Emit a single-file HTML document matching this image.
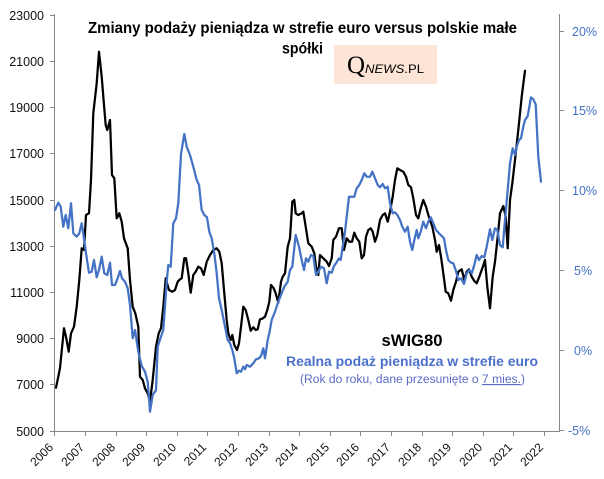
<!DOCTYPE html>
<html><head><meta charset="utf-8"><style>
html,body{margin:0;padding:0;background:#fff;}
svg{display:block;}
text{font-family:"Liberation Sans",sans-serif;}
</style></head><body>
<svg width="604" height="479" viewBox="0 0 604 479" xmlns="http://www.w3.org/2000/svg">
<rect x="0" y="0" width="604" height="479" fill="#fff"/>
<!-- axes -->
<g stroke="#868686" stroke-width="1" fill="none">
<line x1="54.5" y1="14" x2="54.5" y2="431"/>
<line x1="559.5" y1="14" x2="559.5" y2="431"/>
<line x1="54" y1="431.5" x2="560" y2="431.5"/>
<line x1="50" y1="15.5" x2="54" y2="15.5"/>
<line x1="50" y1="61.5" x2="54" y2="61.5"/>
<line x1="50" y1="107.5" x2="54" y2="107.5"/>
<line x1="50" y1="153.5" x2="54" y2="153.5"/>
<line x1="50" y1="200.5" x2="54" y2="200.5"/>
<line x1="50" y1="246.5" x2="54" y2="246.5"/>
<line x1="50" y1="292.5" x2="54" y2="292.5"/>
<line x1="50" y1="338.5" x2="54" y2="338.5"/>
<line x1="50" y1="384.5" x2="54" y2="384.5"/>
<line x1="50" y1="431.5" x2="54" y2="431.5"/>
<line x1="560" y1="31.5" x2="564" y2="31.5"/>
<line x1="560" y1="110.5" x2="564" y2="110.5"/>
<line x1="560" y1="190.5" x2="564" y2="190.5"/>
<line x1="560" y1="270.5" x2="564" y2="270.5"/>
<line x1="560" y1="350.5" x2="564" y2="350.5"/>
<line x1="560" y1="430.5" x2="564" y2="430.5"/>
<line x1="54.5" y1="431" x2="54.5" y2="436"/>
<line x1="85.5" y1="431" x2="85.5" y2="436"/>
<line x1="116.5" y1="431" x2="116.5" y2="436"/>
<line x1="146.5" y1="431" x2="146.5" y2="436"/>
<line x1="177.5" y1="431" x2="177.5" y2="436"/>
<line x1="207.5" y1="431" x2="207.5" y2="436"/>
<line x1="238.5" y1="431" x2="238.5" y2="436"/>
<line x1="269.5" y1="431" x2="269.5" y2="436"/>
<line x1="299.5" y1="431" x2="299.5" y2="436"/>
<line x1="330.5" y1="431" x2="330.5" y2="436"/>
<line x1="360.5" y1="431" x2="360.5" y2="436"/>
<line x1="391.5" y1="431" x2="391.5" y2="436"/>
<line x1="422.5" y1="431" x2="422.5" y2="436"/>
<line x1="452.5" y1="431" x2="452.5" y2="436"/>
<line x1="483.5" y1="431" x2="483.5" y2="436"/>
<line x1="513.5" y1="431" x2="513.5" y2="436"/>
<line x1="544.5" y1="431" x2="544.5" y2="436"/>
</g>
<!-- left labels -->
<g font-size="12.5" fill="#111" text-anchor="end">
<text x="44" y="20">23000</text>
<text x="44" y="66">21000</text>
<text x="44" y="112">19000</text>
<text x="44" y="158">17000</text>
<text x="44" y="205">15000</text>
<text x="44" y="251">13000</text>
<text x="44" y="297">11000</text>
<text x="44" y="343">9000</text>
<text x="44" y="389">7000</text>
<text x="44" y="436">5000</text>
</g>
<!-- right labels -->
<g font-size="12.5" fill="#4472C4">
<text x="572" y="36">20%</text>
<text x="572" y="115">15%</text>
<text x="572" y="195">10%</text>
<text x="574" y="275">5%</text>
<text x="574" y="355">0%</text>
<text x="568" y="435">-5%</text>
</g>
<!-- x labels -->
<g font-size="12" fill="#111" text-anchor="end">
<text x="54" y="448" transform="rotate(-45 54 448)">2006</text>
<text x="85" y="448" transform="rotate(-45 85 448)">2007</text>
<text x="116" y="448" transform="rotate(-45 116 448)">2008</text>
<text x="146" y="448" transform="rotate(-45 146 448)">2009</text>
<text x="177" y="448" transform="rotate(-45 177 448)">2010</text>
<text x="207" y="448" transform="rotate(-45 207 448)">2011</text>
<text x="238" y="448" transform="rotate(-45 238 448)">2012</text>
<text x="269" y="448" transform="rotate(-45 269 448)">2013</text>
<text x="299" y="448" transform="rotate(-45 299 448)">2014</text>
<text x="330" y="448" transform="rotate(-45 330 448)">2015</text>
<text x="360" y="448" transform="rotate(-45 360 448)">2016</text>
<text x="391" y="448" transform="rotate(-45 391 448)">2017</text>
<text x="422" y="448" transform="rotate(-45 422 448)">2018</text>
<text x="452" y="448" transform="rotate(-45 452 448)">2019</text>
<text x="483" y="448" transform="rotate(-45 483 448)">2020</text>
<text x="513" y="448" transform="rotate(-45 513 448)">2021</text>
<text x="544" y="448" transform="rotate(-45 544 448)">2022</text>
</g>
<!-- title -->
<g font-weight="bold" fill="#000" font-size="15.5">
<text x="88" y="33" textLength="429" lengthAdjust="spacingAndGlyphs">Zmiany podaży pieniądza w strefie euro versus polskie małe</text>
<text x="282" y="53.5" textLength="41" lengthAdjust="spacingAndGlyphs">spółki</text>
</g>
<!-- logo -->
<rect x="334" y="45" width="103" height="39" fill="#FCE4D6"/>
<text x="347" y="73" style="font-family:'Liberation Serif',serif;font-size:25px;" fill="#000">Q</text>
<text x="365" y="73" font-size="12" fill="#000" textLength="59" lengthAdjust="spacingAndGlyphs"><tspan font-style="italic">NEWS</tspan>.PL</text>
<!-- series labels -->
<text x="412" y="346" text-anchor="middle" font-weight="bold" font-size="16.5" fill="#000" textLength="61" lengthAdjust="spacingAndGlyphs">sWIG80</text>
<text x="286" y="366" font-weight="bold" font-size="13.5" fill="#4A70CA" textLength="252" lengthAdjust="spacingAndGlyphs">Realna podaż pieniądza w strefie euro</text>
<text x="300" y="383" font-size="11.5" fill="#5B6CC6" textLength="225" lengthAdjust="spacingAndGlyphs">(Rok do roku, dane przesunięte o <tspan text-decoration="underline">7 mies.</tspan>)</text>
<!-- black series -->
<polyline fill="none" stroke="#000" stroke-width="2.25" stroke-linejoin="round" stroke-linecap="round" points="
56,387.7 58.3,376.7 60,368 64,328.3 66,336.7 68.7,351.7 71,333.3 74,326.7 76.7,306.7 79.3,280 81.7,248.3 84,250 86,215 89,213.3 91,180 93.3,113.3 96.7,83.3 99,51.7 101.7,76.7 104,105 105.7,125 107.3,130 110,120 112,175 114.3,178.3 116.7,218.3 119.3,213.3 121.7,221.7 124,238.3 127.7,248.3 130,280 132.7,306.7 135.3,313.3 138.3,326.7 140,376.7 142.7,380 145,388.3 147.7,393.3 150,401.7 152.7,380 156,346.7 158.7,333.3 161,328.3 163.3,306.7 165.7,278.3 169,290 172.3,291.7 175,290 177.7,281.7 180,279.3
181.7,278.3 184.3,258.3 186,258.3 188.3,273.3 190.7,292.7 193.3,275 195.7,271.7 198.3,266.7 201,268.3 203.7,275 206.7,261.7 210,255 213.3,250 216.7,248.3 219.3,251.7 221.7,263.3 224,290 226.7,320 228.3,333.3 230.7,340 232.3,335 234.3,345 237,350 239,343.3 241,326.7 243.3,306.7 245.7,310 248.3,320 250.7,330.7 253.3,327.3 255.7,330 257.7,329.3 260,319.3 262.3,318.7 265,316.7 267.3,310 269.3,301.7 271,285 273.7,288.3 275.7,293.3 278.3,302.7 281,281.7 282.7,276.7 285,273.3 287.7,246.7 290,238.3 292.3,201.7 294.3,200 295.7,213.3 298.3,215 301.7,213.3
303.3,211.7 305.7,226.7 308.3,243.3 311.7,246.7 314.3,253.3 316,266.7 318.3,275 320,255 323.3,258.3 326.7,261.7 329,266 331.7,258.3 333.3,240 336,236.7 339,228.3 341.7,228.3 344,250 346.7,238.3 349.3,241.7 352,241.7 354.3,232.7 356.7,238.3 359.3,241.7 361.7,258.3 364,255 366,236.7 368.3,230 370.7,228.3 372.7,231.7 375,241.7 377.3,235 380,220 382.7,215 385,213.3 387.7,221.7 390,211.7 392.7,196.7 395,180 397.3,168.3 400,170 403.3,171.7 406,176.7 408.3,185 411,187.3 413.3,198.3 416,215 418.3,218.3 420.7,208.3 423.3,200 426,206.7 428.3,215
430,220 432.3,226.7 435,240 436.7,251.7 439,245 441,256.7 443.3,273.3 445.7,291.7 448.3,293.3 451,300.7 453.3,290 456,281.7 458.3,271.7 461.7,269.3 464.3,280 466.7,271.7 469,269.3 471.7,276.7 474.3,281 476.7,283.3 479.3,276.7 482.3,268.3 485,260 487.3,286.7 490,308.3 492.7,276.7 495,261.7 497.7,236.7 500,213.3 503.3,206 505.7,216.7 507.7,248.3 510,200 512.3,183.3 515,160 518.3,130 521.7,96.7 525,70.7"/>
<!-- blue series -->
<polyline fill="none" stroke="#4472C4" stroke-width="2.25" stroke-linejoin="round" stroke-linecap="round" points="
55,210 58.3,202.7 60.7,206.7 63.3,226.7 65.7,215 68.3,228.3 71,203.3 73.3,233.3 76.7,236.7 79.3,233.3 81.7,223.3 84,238.3 86,253.3 89,272.7 91.7,271.7 94,260 96.7,277.3 99,270 101.7,256.7 104.3,273.3 107.3,275 110,262.7 112,285 115,285 117.3,279.3 120,271 122,278.3 125,281.7 127.7,288.3 130,305 132.7,338.3 135,330 138.3,351.7 141.7,366 145,371.7 147.7,381.7 150,411.7 152.7,395 156,390 157.7,346.7 161,336.7 163.3,330 166.7,281.7 168.3,265 170.7,266.7 173.3,223.3 176,218.3 178.3,203.3
181,154 184.3,134 186.7,146.7 190,155 193.3,166.7 196.7,180 199,185 201.7,210 204.3,215 207,217.3 209.3,231.7 211.7,238.3 214.3,253.3 216.7,273.3 219,298.3 221.7,310 225,326.7 227.7,340 230,343.3 232.3,350 234.3,358.3 236.7,373.3 239,370.7 241,371.7 243.3,366.7 245,369.3 246.7,365 250,366.7 253.3,363.3 256,359.3 259,358.3 261,356 263.3,348.3 265,358.3 267.7,340 269.3,333.3 271.7,320 275,311.7 278.3,301.7 281,295 284.3,286.7 287.7,281.7 290,270 292.3,266.7 295.7,235 299,246.7
301.7,260 304,270 306,258.3 308.3,261.7 311,255 313.3,256 316,275 318.3,271.7 321,266.7 324,268.3 326.7,283.3 329,271.7 331.7,272.7 334,266 336,263.3 339,258.3 340.7,260 342.7,246.7 345,231.7 346.7,216.7 349,196.7 351.7,196.7 354.3,196.7 356.7,188.3 359.3,185 361.7,180 364.3,173.3 366.7,176.7 370,176.7 372.3,171.7 375,178.3 377.7,185 380,187.3 382.7,184 385,188.3 387.7,186.7 390,203.3 392.7,213.3 395,212.3 397.3,215 400,220 402.3,226.7 405,231.7 407.7,226.7 410,241.7 412.3,250 414.3,240 416.7,230 418.3,238.3 420.7,231.7 423.3,221.7 426,228.3 428.3,221.7
430.7,217.3 433.3,223.3 436,230 439,233.3 441.7,236 444,238.3 446,250 448.3,260 451,262.7 453.3,263.3 455.7,270 458.3,280 461,278.3 464,284 466.7,273.3 469.3,270 471.7,273.3 474.3,265 476.7,255 479,260 481.7,256 484.3,257.3 486.7,246.7 490,229.3 492.3,240 495,228.3 497.3,230 500,245 502.7,247.3 505,220 507.7,190 510,163.3 512.7,148.3 515,155 516.7,146.7 519,140 521,138.3 523.3,126.7 525,120 527.7,116 531,97.3 533.3,99.3 535.7,104.3 538.3,156.7 541,181.7"/>
</svg>
</body></html>
